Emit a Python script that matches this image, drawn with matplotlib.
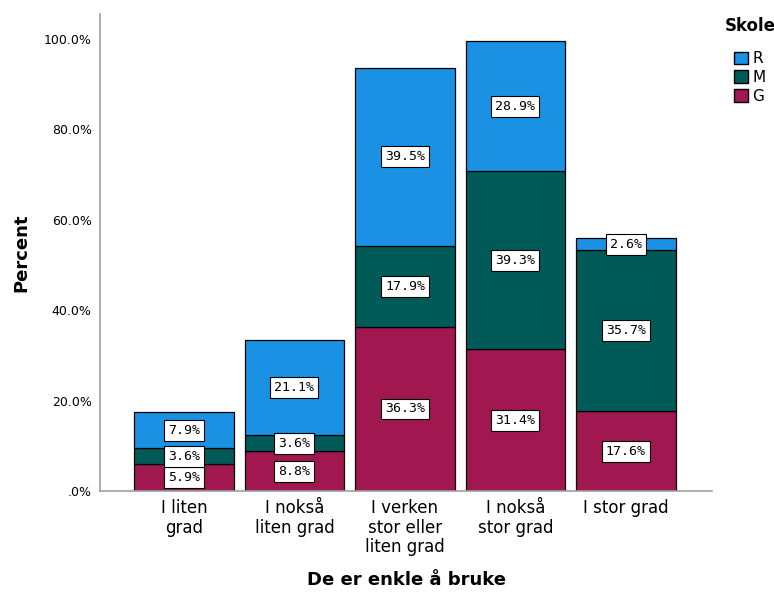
import matplotlib
matplotlib.use("Agg")
import matplotlib.pyplot as plt
from matplotlib.patches import Patch
import numpy as np

categories = ["I liten\ngrad", "I nokså\nliten grad", "I verken\nstor eller\nliten grad",
              "I nokså\nstor grad", "I stor grad"]
g_values = [5.9, 8.8, 36.3, 31.4, 17.6]
m_values = [3.6, 3.6, 17.9, 39.3, 35.7]
r_values = [7.9, 21.1, 39.5, 28.9, 2.6]
yticks = [0, 20, 40, 60, 80, 100]
ytick_labels = [".0%", "20.0%", "40.0%", "60.0%", "80.0%", "100.0%"]

col_r = "#1a91e3"
col_m = "#005b58"
col_g = "#a0184f"

fig = plt.figure(figsize=(7.74, 5.92), dpi=100)
ax = fig.add_axes([0.1292, 0.1706, 0.7908, 0.8054])

x = np.arange(len(categories))
w = 0.9
g = np.array(g_values)
m = np.array(m_values)
r = np.array(r_values)

ax.bar(x, g, width=w, color=col_g, edgecolor="black", linewidth=0.9, zorder=2)
ax.bar(x, m, width=w, bottom=g, color=col_m, edgecolor="black", linewidth=0.9, zorder=2)
ax.bar(x, r, width=w, bottom=g + m, color=col_r, edgecolor="black", linewidth=0.9, zorder=2)

box = dict(boxstyle="square,pad=0.3", facecolor="white", edgecolor="black", linewidth=0.8)
for vals, base in ((g, np.zeros_like(g)), (m, g), (r, g + m)):
    for xi, v, b in zip(x, vals, base):
        ax.text(xi, b + v / 2, f"{v:.1f}%", ha="center", va="center",
                fontsize=9.5, family="DejaVu Sans Mono", bbox=box, zorder=3)

ax.set_xlim(-0.76, 4.78)
ax.set_ylim(0, 105.5)
ax.set_yticks(yticks)
ax.set_yticklabels(ytick_labels, fontsize=9)
ax.set_xticks(x)
ax.set_xticklabels(categories, fontsize=12, linespacing=1.1)
ax.tick_params(axis="both", length=0)
ax.tick_params(axis="x", pad=6)
ax.tick_params(axis="y", pad=6)

for s in ("top", "right"):
    ax.spines[s].set_visible(False)
for s in ("left", "bottom"):
    ax.spines[s].set_color("#a0a0a0")
    ax.spines[s].set_linewidth(1.2)

ax.set_ylabel("Percent", fontsize=13, fontweight="bold", labelpad=10)
ax.set_xlabel("De er enkle å bruke", fontsize=13, fontweight="bold", labelpad=11)

handles = [Patch(facecolor=col_r, edgecolor="black", label="R"),
           Patch(facecolor=col_m, edgecolor="black", label="M"),
           Patch(facecolor=col_g, edgecolor="black", label="G")]
leg = fig.legend(handles=handles, title="Skole", loc="upper left",
                 bbox_to_anchor=(0.936, 0.972), frameon=False, fontsize=11,
                 title_fontproperties={"weight": "bold", "size": 12},
                 handlelength=0.9, handleheight=0.9, handletextpad=0.3,
                 labelspacing=0.25, borderaxespad=0, borderpad=0)
leg._legend_box.sep = 12

fig.savefig("out.png", dpi=100)
